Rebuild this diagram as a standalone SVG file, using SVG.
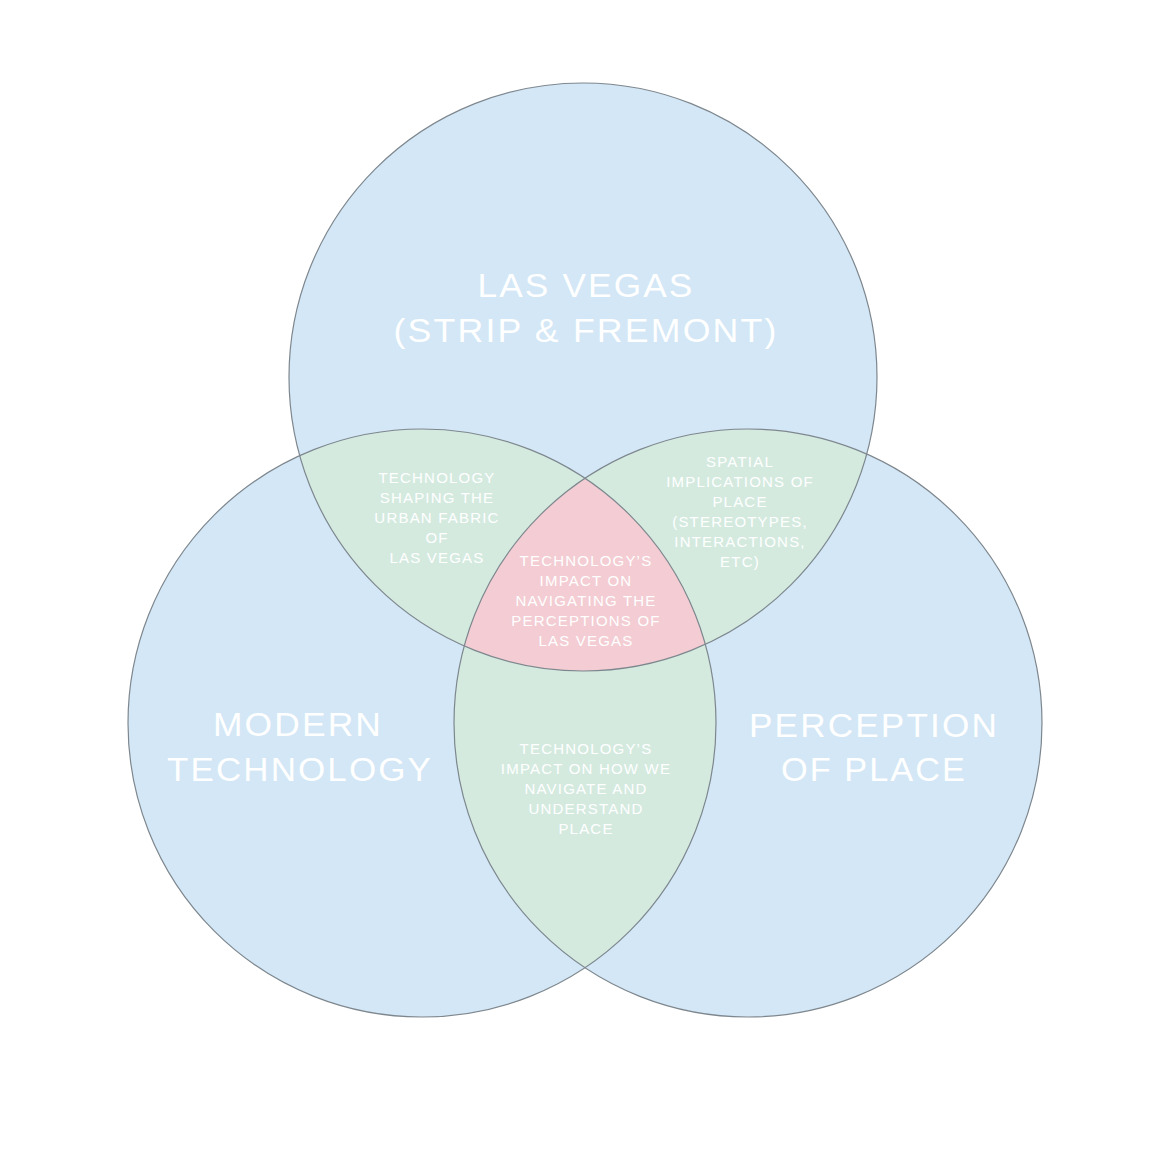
<svg xmlns="http://www.w3.org/2000/svg" width="1174" height="1172" viewBox="0 0 1174 1172">
<style>
.blue{fill:#d3e7f6}
.green{fill:#d4eadf}
.pink{fill:#f3cdd3}
.ring{fill:none;stroke:#7e878e;stroke-width:1.2}
.big{font-family:"Liberation Sans",Arial,sans-serif;font-size:33px;fill:#ffffff;text-anchor:middle;letter-spacing:2px}
.small{font-family:"Liberation Sans",Arial,sans-serif;font-size:15px;fill:#ffffff;text-anchor:middle;letter-spacing:1.2px}
</style>
<defs>
<clipPath id="cTop"><circle cx="583" cy="377" r="294"/></clipPath>
<clipPath id="cLeft"><circle cx="422" cy="723" r="294"/></clipPath>
<clipPath id="cRight"><circle cx="748" cy="723" r="294"/></clipPath>
</defs>
<rect width="1174" height="1172" fill="#ffffff"/>
<g id="fills">
<circle class="blue" cx="583" cy="377" r="294"/>
<circle class="blue" cx="422" cy="723" r="294"/>
<circle class="blue" cx="748" cy="723" r="294"/>
<g clip-path="url(#cTop)"><circle class="green" cx="422" cy="723" r="294"/><circle class="green" cx="748" cy="723" r="294"/></g>
<g clip-path="url(#cLeft)"><circle class="green" cx="748" cy="723" r="294"/></g>
<g clip-path="url(#cTop)"><g clip-path="url(#cLeft)"><circle class="pink" cx="748" cy="723" r="294"/></g></g>
</g>
<g id="node-las-vegas">
<circle class="ring" cx="583" cy="377" r="294"/>
<text class="big" x="586" y="297" textLength="217" lengthAdjust="spacingAndGlyphs">LAS VEGAS</text>
<text class="big" x="586" y="342" textLength="385" lengthAdjust="spacingAndGlyphs">(STRIP &amp; FREMONT)</text>
</g>
<g id="node-modern-technology">
<circle class="ring" cx="422" cy="723" r="294"/>
<text class="big" x="298" y="736" textLength="170" lengthAdjust="spacingAndGlyphs">MODERN</text>
<text class="big" x="300" y="781" textLength="266" lengthAdjust="spacingAndGlyphs">TECHNOLOGY</text>
</g>
<g id="node-perception-of-place">
<circle class="ring" cx="748" cy="723" r="294"/>
<text class="big" x="874" y="737" textLength="250" lengthAdjust="spacingAndGlyphs">PERCEPTION</text>
<text class="big" x="874" y="781" textLength="186" lengthAdjust="spacingAndGlyphs">OF PLACE</text>
</g>
<g id="node-tech-urban-fabric">
<text class="small" x="437" y="483">TECHNOLOGY</text>
<text class="small" x="437" y="503">SHAPING THE</text>
<text class="small" x="437" y="523">URBAN FABRIC</text>
<text class="small" x="437" y="543">OF</text>
<text class="small" x="437" y="563">LAS VEGAS</text>
</g>
<g id="node-spatial-implications">
<text class="small" x="740" y="467">SPATIAL</text>
<text class="small" x="740" y="487">IMPLICATIONS OF</text>
<text class="small" x="740" y="507">PLACE</text>
<text class="small" x="740" y="527">(STEREOTYPES,</text>
<text class="small" x="740" y="547">INTERACTIONS,</text>
<text class="small" x="740" y="567">ETC)</text>
</g>
<g id="node-center">
<text class="small" x="586" y="566">TECHNOLOGY’S</text>
<text class="small" x="586" y="586">IMPACT ON</text>
<text class="small" x="586" y="606">NAVIGATING THE</text>
<text class="small" x="586" y="626">PERCEPTIONS OF</text>
<text class="small" x="586" y="646">LAS VEGAS</text>
</g>
<g id="node-navigate-place">
<text class="small" x="586" y="754">TECHNOLOGY’S</text>
<text class="small" x="586" y="774">IMPACT ON HOW WE</text>
<text class="small" x="586" y="794">NAVIGATE AND</text>
<text class="small" x="586" y="814">UNDERSTAND</text>
<text class="small" x="586" y="834">PLACE</text>
</g>
<g id="connectors"></g>
</svg>
